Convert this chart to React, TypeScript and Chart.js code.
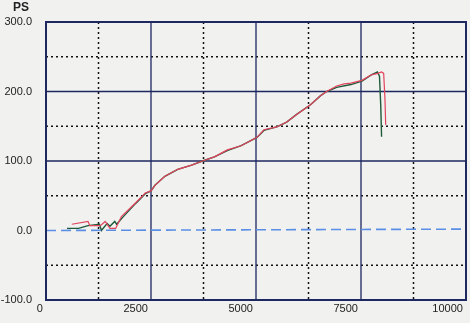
import { useEffect, useRef } from 'react';
import { Chart, registerables } from 'chart.js';
Chart.register(...registerables);

// RPM (x) and power in PS (y)
const greenRpm = [500, 773, 1000, 1273, 1318, 1455, 1523, 1636, 1682, 1841, 2136, 2364, 2500, 2594, 2830, 3137, 3467, 3726, 4010, 4316, 4646, 5024, 5189, 5495, 5731, 5967, 6298, 6538, 6682, 6920, 7260, 7524, 7745, 7890, 7940, 7970, 7990];
const greenPs = [3, 3, 7, 9, 0, 10, 6, 13, 9, 20, 39, 53, 57, 65, 78, 88, 94, 100, 106, 115, 122, 134, 144, 149, 156, 167, 181, 194, 200, 206, 210, 215, 224, 228, 222, 180, 135];

const redRpm = [614, 1000, 1045, 1295, 1409, 1523, 1659, 1795, 2136, 2364, 2500, 2594, 2830, 3137, 3467, 3726, 4010, 4316, 4646, 5024, 5189, 5495, 5731, 5967, 6298, 6538, 6682, 6920, 7100, 7260, 7524, 7745, 7900, 7990, 8040, 8070, 8088];
const redPs = [9, 13, 7, 7, 13, 3, 3, 20, 40, 54, 57, 65, 78, 88, 94, 100, 106, 116, 122, 134, 145, 149, 156, 167, 181, 194, 200, 208, 211, 212, 216, 224, 226, 228, 226, 190, 152];

const baseRpm = [0, 10000];
const basePs = [0, 2];

const xTickLabels = [0, 2500, 5000, 7500, 10000];
const yTickLabels = [-100, 0, 100, 200, 300];
const yUnit = 'PS';

const toPoints = (xs: number[], ys: number[]) => xs.map((x, i) => ({ x, y: ys[i] }));

const NAVY = '#1d2760';

const framePlugin = {
  id: 'frame',
  beforeDraw(chart: any) {
    const { ctx, width, height } = chart;
    ctx.save();
    ctx.fillStyle = '#f1f1ef';
    ctx.fillRect(0, 0, width, height);
    ctx.restore();
  },
  beforeDatasetsDraw(chart: any) {
    const { ctx, chartArea: a, scales } = chart;
    const xs = scales.x;
    const ys = scales.y;
    ctx.save();
    for (let v = -50; v < 300; v += 50) {
      if (v === 0) continue;
      const y = ys.getPixelForValue(v);
      ctx.beginPath();
      if (v % 100 === 0) {
        ctx.setLineDash([]);
        ctx.strokeStyle = NAVY;
        ctx.lineWidth = 1.3;
      } else {
        ctx.setLineDash([2, 3]);
        ctx.strokeStyle = '#111';
        ctx.lineWidth = 1.5;
      }
      ctx.moveTo(a.left, y);
      ctx.lineTo(a.right, y);
      ctx.stroke();
    }
    for (let v = 1250; v < 10000; v += 1250) {
      const x = xs.getPixelForValue(v);
      ctx.beginPath();
      if (v % 2500 === 0) {
        ctx.setLineDash([]);
        ctx.strokeStyle = NAVY;
        ctx.lineWidth = 1.3;
      } else {
        ctx.setLineDash([2, 3]);
        ctx.strokeStyle = '#111';
        ctx.lineWidth = 1.5;
      }
      ctx.moveTo(x, a.top);
      ctx.lineTo(x, a.bottom);
      ctx.stroke();
    }
    ctx.restore();
  },
  afterDatasetsDraw(chart: any) {
    const { ctx, chartArea: a } = chart;
    ctx.save();
    ctx.setLineDash([]);
    ctx.strokeStyle = NAVY;
    ctx.lineWidth = 2;
    ctx.strokeRect(a.left, a.top, a.right - a.left, a.bottom - a.top);
    ctx.fillStyle = '#222';
    ctx.font = 'bold 12px "Liberation Sans", Arial, sans-serif';
    ctx.textAlign = 'left';
    ctx.textBaseline = 'middle';
    ctx.fillText(yUnit, 13, 8);
    ctx.restore();
  },
};

export default function App() {
  const ref = useRef<HTMLCanvasElement>(null);
  useEffect(() => {
    document.body.style.margin = '0';
    const chart = new Chart(ref.current!, {
      type: 'line',
      data: {
        datasets: [
          {
            data: toPoints(baseRpm, basePs),
            borderColor: '#5b8fe6',
            borderWidth: 1.6,
            borderDash: [10, 5],
            pointRadius: 0,
          },
          {
            data: toPoints(redRpm, redPs),
            borderColor: '#e2445c',
            borderWidth: 1.2,
            pointRadius: 0,
          },
          {
            data: toPoints(greenRpm, greenPs),
            borderColor: '#1f5a3a',
            borderWidth: 1.4,
            pointRadius: 0,
          },
        ],
      },
      options: {
        responsive: false,
        animation: false,
        parsing: false,
        layout: { padding: { top: 22, right: 4, left: 0, bottom: 0 } },
        plugins: { legend: { display: false }, tooltip: { enabled: false } },
        scales: {
          x: {
            type: 'linear',
            min: 0,
            max: 10000,
            grid: { display: false, drawTicks: false },
            border: { display: false },
            afterBuildTicks: (s: any) => {
              s.ticks = xTickLabels.map((v) => ({ value: v }));
            },
            afterFit: (s: any) => {
              s.height = 23;
            },
            ticks: {
              align: 'end',
              padding: 2,
              maxRotation: 0,
              autoSkip: false,
              color: '#222',
              font: { family: '"Liberation Sans", Arial, sans-serif', size: 11 },
              callback: (v: any) => String(v) + ' ',
            },
          },
          y: {
            type: 'linear',
            min: -100,
            max: 300,
            grid: { display: false, drawTicks: false },
            border: { display: false },
            afterBuildTicks: (s: any) => {
              s.ticks = yTickLabels.map((v) => ({ value: v }));
            },
            afterFit: (s: any) => {
              s.width = 46;
            },
            ticks: {
              padding: 14,
              autoSkip: false,
              color: '#222',
              font: { family: '"Liberation Sans", Arial, sans-serif', size: 11 },
              callback: (v: any) => Number(v).toFixed(1),
            },
          },
        },
      },
      plugins: [framePlugin],
    });
    return () => chart.destroy();
  }, []);
  return (
    <div style={{ width: 470, height: 323 }}>
      <canvas ref={ref} width={470} height={323} style={{ display: 'block' }} />
    </div>
  );
}
